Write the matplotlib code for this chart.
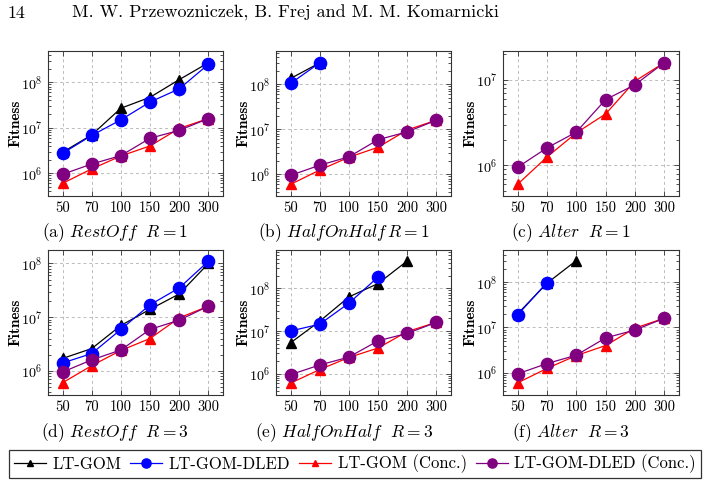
import numpy as np
import matplotlib
matplotlib.use("Agg")
import matplotlib.pyplot as plt
from matplotlib.lines import Line2D
from matplotlib.ticker import LogLocator, NullFormatter

plt.rcParams['font.family'] = ['cmr10', 'DejaVu Serif']
plt.rcParams['mathtext.fontset'] = 'cm'
plt.rcParams['axes.formatter.use_mathtext'] = True

# ---------------- data ----------------
sizes = ["50", "70", "100", "150", "200", "300"]

conc_gom = [6.0e5, 1.25e6, 2.4e6, 4.0e6, 9.7e6, 1.6e7]
conc_dled = [9.5e5, 1.6e6, 2.45e6, 5.9e6, 8.8e6, 1.6e7]

restoff1_gom = [2.9e6, 7.0e6, 2.7e7, 4.7e7, 1.15e8, 2.7e8]
restoff1_dled = [2.75e6, 6.8e6, 1.5e7, 3.7e7, 7.2e7, 2.5e8]
hoh1_gom = [1.35e8, 3.0e8]
hoh1_dled = [1.05e8, 3.0e8]
alter1_gom = []
alter1_dled = []

restoff3_gom = [1.7e6, 2.6e6, 7.0e6, 1.4e7, 2.7e7, 1.0e8]
restoff3_dled = [1.4e6, 2.1e6, 5.9e6, 1.7e7, 3.5e7, 1.1e8]
hoh3_gom = [5.3e6, 1.7e7, 6.3e7, 1.3e8, 4.4e8]
hoh3_dled = [1.0e7, 1.45e7, 4.5e7, 1.85e8]
alter3_gom = [2.0e7, 9.5e7, 3.0e8]
alter3_dled = [1.9e7, 9.8e7]

captions = [r"(a) $\mathit{RestOff}\ \ R = 1$",
            r"(b) $\mathit{HalfOnHalf}\,R = 1$",
            r"(c) $\mathit{Alter}\ \ R = 1$",
            r"(d) $\mathit{RestOff}\ \ R = 3$",
            r"(e) $\mathit{HalfOnHalf}\ \ R = 3$",
            r"(f) $\mathit{Alter}\ \ R = 3$"]

labels = ["LT-GOM", "LT-GOM-DLED", "LT-GOM (Conc.)", "LT-GOM-DLED (Conc.)"]
colors = ["black", "blue", "red", "purple"]
markers = ["^", "o", "^", "o"]
msizes = [6.5, 8.8, 6.5, 8.8]

panels = [
    (restoff1_gom, restoff1_dled, (10**5.5, 10**8.69)),
    (hoh1_gom, hoh1_dled, (10**5.52, 10**8.74)),
    (alter1_gom, alter1_dled, (10**5.64, 10**7.34)),
    (restoff3_gom, restoff3_dled, (10**5.55, 10**8.25)),
    (hoh3_gom, hoh3_dled, (10**5.5, 10**8.9)),
    (alter3_gom, alter3_dled, (10**5.51, 10**8.71)),
]

W, H = 706, 486
fig = plt.figure(figsize=(W / 100, H / 100), dpi=100)

lefts = [48, 276, 503]
widths = [175, 175, 176]
tops = [51, 250]
hgt = 145
cap_x = [115, 344, 571]
cap_y = [233, 433]

for i, (gom, dled, ylim) in enumerate(panels):
    r, c = divmod(i, 3)
    ax = fig.add_axes([lefts[c] / W, 1 - (tops[r] + hgt) / H, widths[c] / W, hgt / H])
    ax.set_yscale('log')
    series = [gom, dled, conc_gom, conc_dled]
    for s, col, mk, ms in zip(series, colors, markers, msizes):
        if len(s) == 0:
            continue
        x = np.arange(len(s))
        ax.plot(x, s, color=col, marker=mk, markersize=ms, linewidth=0.9,
                markeredgecolor=col, markerfacecolor=col, zorder=3)
    ax.set_xlim(-0.5, len(sizes) - 0.5)
    ax.set_ylim(*ylim)
    ax.set_xticks(np.arange(len(sizes)))
    ax.set_xticklabels(sizes)
    ax.yaxis.set_major_locator(LogLocator(base=10, numticks=10))
    ax.yaxis.set_minor_locator(LogLocator(base=10, subs=np.arange(2, 10), numticks=20))
    ax.yaxis.set_minor_formatter(NullFormatter())
    ax.tick_params(axis='both', which='both', direction='in', top=True, right=True,
                   labelsize=10.5, width=0.6, color='#333333')
    ax.tick_params(axis='y', labelsize=10.2)
    ax.tick_params(which='major', length=3.5, pad=4)
    ax.tick_params(which='minor', length=2)
    ax.grid(True, which='major', linestyle=(0, (3, 3)), color='#bbbbbb', linewidth=0.7)
    for sp in ax.spines.values():
        sp.set_linewidth(0.8)
        sp.set_color('#333333')
    ax.set_ylabel("Fitness", fontfamily=['cmb10', 'DejaVu Serif'], fontsize=11, labelpad=-1)
    fig.text(cap_x[c] / W, 1 - cap_y[r] / H, captions[i], fontsize=12.5,
             ha='center', va='center')

# header
fig.text(7 / W, 1 - 13 / H, "14", fontsize=13, ha='left', va='center')
fig.text(72 / W, 1 - 13 / H, "M. W. Przewozniczek, B. Frej and M. M. Komarnicki",
         fontsize=13, ha='left', va='center')

# legend
handles = [Line2D([], [], color=col, marker=mk, markersize=ms * 0.75, linewidth=0.9)
           for col, mk, ms in zip(colors, markers, msizes)]
leg = fig.legend(handles, labels, loc='center', bbox_to_anchor=(355 / W, 1 - 464 / H),
                 ncol=4, fontsize=12, frameon=True, fancybox=False,
                 handlelength=1.9, handletextpad=0.4, columnspacing=0.55,
                 borderpad=0.3, borderaxespad=0, edgecolor='black')
leg.get_frame().set_linewidth(0.9)

fig.savefig("out.png", dpi=100)
